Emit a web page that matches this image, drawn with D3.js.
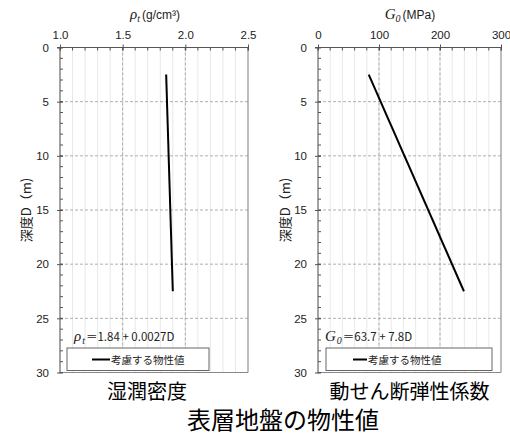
<!DOCTYPE html>
<html><head><meta charset="utf-8">
<script src="https://cdn.jsdelivr.net/npm/d3@7"></script>
<style>
html,body{margin:0;padding:0;background:#fff;}
svg{display:block;}
text{font-family:"Liberation Sans","Noto Sans CJK JP",sans-serif;}
.jp{font-family:"Noto Sans CJK JP",sans-serif;}
</style></head>
<body>
<svg id="c" width="510" height="438"></svg>
<script>
// ---- data ----
const depthTicks = [0, 5, 10, 15, 20, 25, 30];
const depths = [2.5, 22.5];
const densityValues = [1.847, 1.900];
const densityTicks = [1.0, 1.5, 2.0, 2.5];
const g0Values = [83.2, 239.2];
const g0Ticks = [0, 100, 200, 300];
const legendLabel = "考慮する物性値";
const yLabel = "深度D（m)";
const subtitles = ["湿潤密度", "動せん断弾性係数"];
const mainTitle = "表層地盤の物性値";

const svg = d3.select("#c");

const panels = [
  {x0:60, x1:248, domain:[1.0,2.5], ticks:densityTicks, minorStep:0.1, fmt:d3.format(".1f"),
   values:densityValues, titleMain:"ρ", titleSub:"t", titleUnit:"(g/cm³)", titleX:155,
   eqMain:"ρ", eqSub:"t", eqText:"＝1.84 + 0.0027D", eqX:74,
   legend:{x:67, w:142, lx0:92, lx1:110, tx:111}, ylabX:25, subtitle:subtitles[0]},
  {x0:318, x1:501, domain:[0,300], ticks:g0Ticks, minorStep:20, fmt:d3.format("d"),
   values:g0Values, titleMain:"G", titleSub:"0", titleUnit:"(MPa)", titleX:410,
   eqMain:"G", eqSub:"0", eqText:"＝63.7 + 7.8D", eqX:325,
   legend:{x:326, w:166, lx0:353, lx1:367, tx:368}, ylabX:284, subtitle:subtitles[1]}
];

const yTop = 47.5, yBot = 372.5;
const y = d3.scaleLinear().domain([0,30]).range([yTop, yBot]);

panels.forEach(p => {
  const x = d3.scaleLinear().domain(p.domain).range([p.x0, p.x1]);
  const g = svg.append("g");
  const minor = d3.range(p.domain[0], p.domain[1] + 1e-9, p.minorStep);
  g.selectAll(".mg").data(minor).join("line")
    .attr("x1", d => x(d)).attr("x2", d => x(d))
    .attr("y1", yTop).attr("y2", yBot)
    .attr("stroke", "#e2e2e2").attr("stroke-width", 0.8);
  g.selectAll(".Mg").data(p.ticks.slice(1, -1)).join("line")
    .attr("x1", d => x(d)).attr("x2", d => x(d))
    .attr("y1", yTop).attr("y2", yBot)
    .attr("stroke", "#9a9a9a").attr("stroke-width", 0.8).attr("stroke-dasharray", "3,2");
  g.selectAll(".hg").data(depthTicks.slice(1, -1)).join("line")
    .attr("x1", p.x0).attr("x2", p.x1)
    .attr("y1", d => y(d)).attr("y2", d => y(d))
    .attr("stroke", "#9a9a9a").attr("stroke-width", 0.8).attr("stroke-dasharray", "3,2");
  g.append("line").attr("x1", p.x1).attr("x2", p.x1).attr("y1", yTop).attr("y2", yBot)
    .attr("stroke", "#888").attr("stroke-width", 1);
  g.append("line").attr("x1", p.x0).attr("x2", p.x1).attr("y1", yBot).attr("y2", yBot)
    .attr("stroke", "#888").attr("stroke-width", 1);

  const xAxis = d3.axisTop(x).tickValues(p.ticks).tickFormat(p.fmt).tickSize(3).tickPadding(6);
  const ax = g.append("g").attr("transform", `translate(0,${yTop})`).call(xAxis);
  ax.select(".domain").attr("stroke", "#555").attr("d", `M${p.x0-3},0H${p.x1}`);
  ax.selectAll(".tick line").attr("stroke", "#555").attr("y1", 3).attr("y2", -3);
  ax.selectAll(".tick text").attr("font-size", 11.5).attr("fill", "#222")
    .attr("font-family", "Liberation Sans, sans-serif");
  g.selectAll(".tm").data(minor).join("line")
    .attr("x1", d => x(d)).attr("x2", d => x(d))
    .attr("y1", yTop).attr("y2", yTop + 3)
    .attr("stroke", "#555").attr("stroke-width", 1);

  const yAxis = d3.axisLeft(y).tickValues(depthTicks).tickFormat(d3.format("d")).tickSize(3).tickPadding(8);
  const ay = g.append("g").attr("transform", `translate(${p.x0},0)`).call(yAxis);
  ay.select(".domain").attr("stroke", "#555").attr("d", `M0,${yTop}V${yBot+1}`);
  ay.selectAll(".tick line").attr("stroke", "#555").attr("x1", 3).attr("x2", -3);
  ay.selectAll(".tick text").attr("font-size", 11.5).attr("fill", "#222")
    .attr("font-family", "Liberation Sans, sans-serif");
  g.selectAll(".ym").data(d3.range(0, 31, 1)).join("line")
    .attr("x1", p.x0).attr("x2", p.x0 + 3)
    .attr("y1", d => y(d)).attr("y2", d => y(d))
    .attr("stroke", "#555").attr("stroke-width", 1);

  const line = d3.line().x(d => x(d[0])).y(d => y(d[1]));
  g.append("path").datum(p.values.map((v, i) => [v, depths[i]]))
    .attr("d", line).attr("fill", "none").attr("stroke", "#000").attr("stroke-width", 2);

  const t = g.append("text").attr("x", p.titleX).attr("y", 19).attr("text-anchor", "middle")
    .attr("font-size", 12).attr("fill", "#222");
  t.append("tspan").attr("font-style", "italic").attr("font-family", "Liberation Serif, serif").attr("font-size", 15).text(p.titleMain);
  t.append("tspan").attr("font-style", "italic").attr("font-family", "Liberation Serif, serif").attr("font-size", 10).attr("dy", 3).text(p.titleSub);
  t.append("tspan").attr("dy", -3).attr("dx", 2).text(p.titleUnit);

  const e = g.append("text").attr("x", p.eqX).attr("y", 341).attr("font-size", 12).attr("fill", "#222");
  e.append("tspan").attr("font-style", "italic").attr("font-family", "Liberation Serif, serif").attr("font-size", 15).text(p.eqMain);
  e.append("tspan").attr("font-style", "italic").attr("font-family", "Liberation Serif, serif").attr("font-size", 10).attr("dy", 3).attr("dx", 1).text(p.eqSub);
  e.append("tspan").attr("dy", -3).attr("dx", 1).attr("font-family", "Noto Sans CJK JP, sans-serif").attr("font-size", 11.5).text(p.eqText);

  const L = p.legend;
  g.append("rect").attr("x", L.x).attr("y", 348).attr("width", L.w).attr("height", 22.5)
    .attr("fill", "#fff").attr("stroke", "#666").attr("stroke-width", 1);
  g.append("line").attr("x1", L.lx0).attr("x2", L.lx1).attr("y1", 359.5).attr("y2", 359.5)
    .attr("stroke", "#000").attr("stroke-width", 2);
  g.append("text").attr("class", "jp").attr("x", L.tx).attr("y", 363.5)
    .attr("font-size", 10.5).attr("fill", "#222").text(legendLabel);

  g.append("text").attr("class", "jp")
    .attr("transform", `translate(${p.ylabX},210) rotate(-90)`)
    .attr("text-anchor", "middle").attr("dominant-baseline", "central")
    .attr("font-size", 13).attr("fill", "#222").text(yLabel);

  g.append("text").attr("class", "jp").attr("x", (p.x0 + p.x1) / 2 + (p === panels[0] ? -7 : 0)).attr("y", 399)
    .attr("text-anchor", "middle").attr("font-size", 20).attr("fill", "#000").text(p.subtitle);
});

svg.append("text").attr("class", "jp").attr("x", 283).attr("y", 429)
  .attr("text-anchor", "middle").attr("font-size", 24).attr("fill", "#000").text(mainTitle);
</script>
</body></html>
